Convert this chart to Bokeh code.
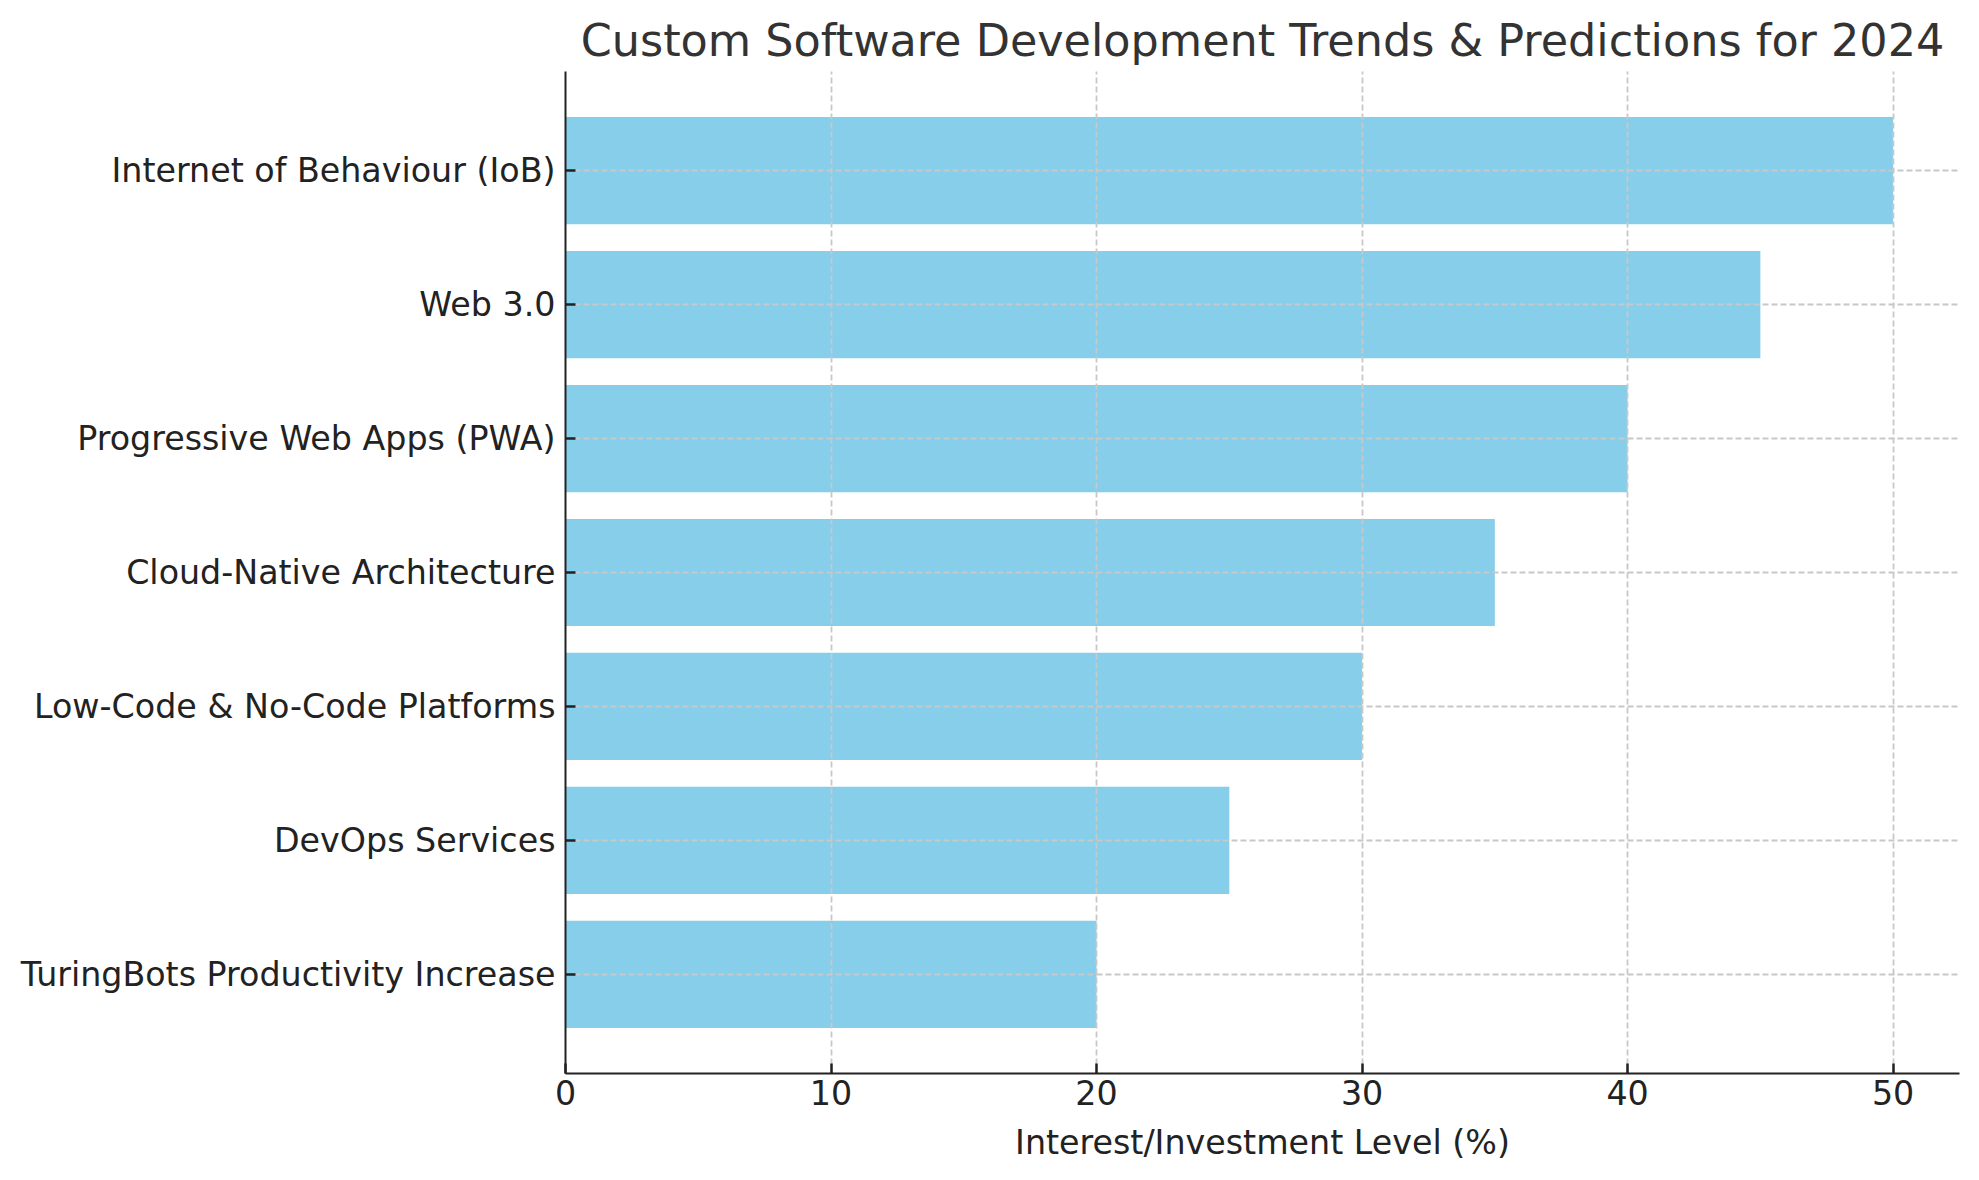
from bokeh.plotting import figure
from bokeh.models import Range1d, FactorRange, FixedTicker, ColumnDataSource
from bokeh.embed import file_html
from bokeh.resources import INLINE

categories = [
    "TuringBots Productivity Increase",
    "DevOps Services",
    "Low-Code & No-Code Platforms",
    "Cloud-Native Architecture",
    "Progressive Web Apps (PWA)",
    "Web 3.0",
    "Internet of Behaviour (IoB)",
]
values = [20, 25, 30, 35, 40, 45, 50]
x_ticks = [0, 10, 20, 30, 40, 50]

title_text = "Custom Software Development Trends & Predictions for 2024"
x_label = "Interest/Investment Level (%)"

source = ColumnDataSource(dict(cat=categories, val=values))

p = figure(
    width=1963, height=1164,
    y_range=FactorRange(factors=categories, range_padding=0.24, range_padding_units="absolute"),
    x_range=Range1d(0, 52.5),
    output_backend="svg", toolbar_location=None,
    min_border_left=565, min_border_right=4, min_border_top=71, min_border_bottom=91,
    title=title_text,
)
p.outline_line_color = None
p.background_fill_color = "white"

p.hbar(y="cat", right="val", left=0, height=0.8, source=source,
       fill_color="#87CEEB", line_color=None)

# title
p.title.text_font = "DejaVu Sans"
p.title.text_font_size = "44.5px"
p.title.text_font_style = "normal"
p.title.text_color = "#333333"
p.title.align = "center"
p.title.offset = 0
p.title.standoff = 12

for ax in (p.xaxis[0], p.yaxis[0]):
    ax.axis_line_color = "#222222"
    ax.axis_line_width = 2
    ax.major_tick_line_color = "#222222"
    ax.major_tick_line_width = 2.5
    ax.major_tick_in = 10
    ax.major_tick_out = 0
    ax.minor_tick_line_color = None
    ax.major_label_text_font = "DejaVu Sans"
    ax.major_label_text_font_size = "33.3px"
    ax.major_label_text_color = "#222222"
    ax.level = "overlay"

p.xaxis.ticker = FixedTicker(ticks=x_ticks)
p.xaxis.major_label_standoff = 6
p.yaxis.major_label_standoff = 10
p.xaxis.axis_label = x_label
p.xaxis.axis_label_text_font = "DejaVu Sans"
p.xaxis.axis_label_text_font_size = "33.3px"
p.xaxis.axis_label_text_font_style = "normal"
p.xaxis.axis_label_text_color = "#222222"
p.xaxis.axis_label_standoff = 15

for g in (p.xgrid[0], p.ygrid[0]):
    g.grid_line_color = "#c8c8c8"
    g.grid_line_width = 1.8
    g.grid_line_dash = "6 3"
    g.level = "annotation"

open("out.html", "w").write(file_html(p, INLINE))
